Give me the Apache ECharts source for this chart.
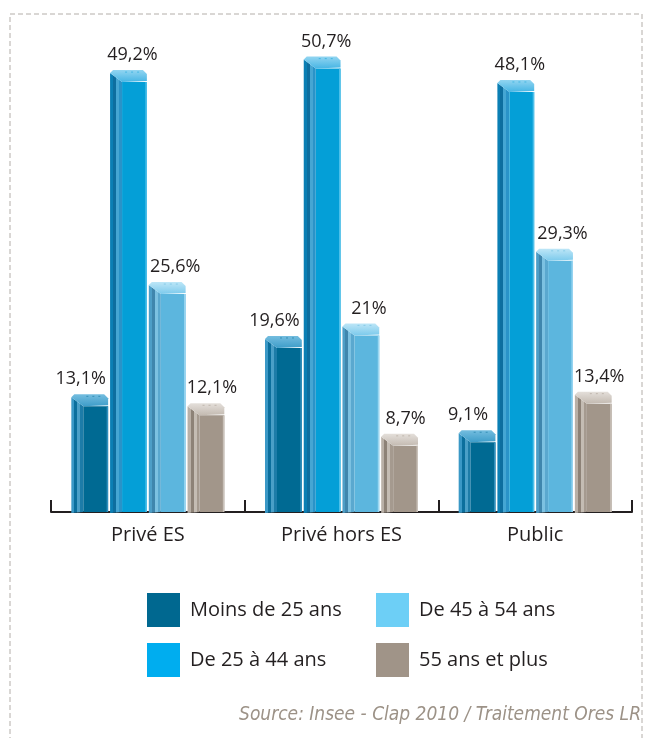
<!DOCTYPE html>
<html>
<head>
<meta charset="utf-8">
<script src="https://cdn.jsdelivr.net/npm/echarts@6/dist/echarts.min.js"></script>
<style>
  html, body { margin: 0; padding: 0; background: #ffffff; }
  #chart { width: 646px; height: 738px; }
</style>
</head>
<body>
<div id="chart"></div>
<script>
// Sectors and age-group shares (%)
const categories = ['Privé ES', 'Privé hors ES', 'Public'];
const seriesNames = ['Moins de 25 ans', 'De 25 à 44 ans', 'De 45 à 54 ans', '55 ans et plus'];
const moins25 = [13.1, 19.6, 9.1];
const de25a44 = [49.2, 50.7, 48.1];
const de45a54 = [25.6, 21, 29.3];
const plus55 = [12.1, 8.7, 13.4];
const sourceText = 'Source: Insee - Clap 2010 / Traitement Ores LR';

// Shading for the bevelled bars: legend swatch, front face, side stripes, cap
const palettes = [
  { swatch: '#006890', front: '#006a93', edge: '#2f8fbd',
    side: ['#3a98c6', '#0b6f9d', '#4a9fc7', '#1d7ca8'], cap: '#3e9dc9', capLight: '#74bddf', labelDx: -9 },
  { swatch: '#00adef', front: '#049fd7', edge: '#4fc0ea',
    side: ['#0b7fb4', '#0d6e9f', '#45a6d3', '#2a93c8'], cap: '#46b5e4', capLight: '#92d5f1', labelDx: 4 },
  { swatch: '#6dcff6', front: '#5cb6de', edge: '#9ad6f1',
    side: ['#4d9ec7', '#3f86ad', '#7cc1e1', '#5aa8cf'], cap: '#7ccaec', capLight: '#bde6f7', labelDx: 8 },
  { swatch: '#a09488', front: '#a2968a', edge: '#c9c1b9',
    side: ['#b9b0a7', '#8d8277', '#c4bcb3', '#a59a8f'], cap: '#c3bab1', capLight: '#e4dfda', labelDx: 6 }
];

// Legend slots: two columns, two rows
const legendSlots = [
  { left: 147, top: 593 },
  { left: 147, top: 643 },
  { left: 376, top: 593 },
  { left: 376, top: 643 }
];

const seriesValues = [moins25, de25a44, de45a54, plus55];

function fmt(v) {
  return String(v).replace('.', ',') + '%';
}

function stripeGradient(cols) {
  const stops = [];
  const n = cols.length;
  cols.forEach(function (c, i) {
    stops.push({ offset: i / n, color: c });
    stops.push({ offset: (i + 1) / n - 0.001, color: c });
  });
  return new echarts.graphic.LinearGradient(0, 0, 1, 0, stops);
}

function makeRenderer(si) {
  const pal = palettes[si];
  return function (params, api) {
    const idx = api.value(0);
    const val = api.value(1);
    const top = api.coord([idx, val]);
    const base = api.coord([idx, 0]);
    const band = api.size([1, 0])[0];
    const barW = band * 0.19;
    const pitch = band * 0.2;
    const cx = top[0] + (si - 1.5) * pitch;
    const x0 = cx - barW / 2;
    const xR = x0 + barW;
    const yT = top[1];
    const yB = base[1];
    const sideW = 12;
    const capH = 12;

    return {
      type: 'group',
      children: [
        { // side face with vertical stripes
          type: 'polygon',
          shape: { points: [[x0, yT + 3], [x0 + sideW, yT + capH], [x0 + sideW, yB], [x0, yB + 1]] },
          style: { fill: stripeGradient(pal.side) }
        },
        { // front face
          type: 'rect',
          shape: { x: x0 + sideW, y: yT + capH, width: xR - x0 - sideW, height: yB - yT - capH },
          style: { fill: pal.front }
        },
        { // highlight on the right edge
          type: 'rect',
          shape: { x: xR - 1.5, y: yT + capH, width: 1.5, height: yB - yT - capH },
          style: { fill: pal.edge }
        },
        { // bevelled top
          type: 'polygon',
          shape: { points: [[x0, yT + 3], [x0 + 3, yT], [xR - 4, yT], [xR, yT + 4], [xR, yT + capH - 1], [x0 + sideW, yT + capH]] },
          style: {
            fill: new echarts.graphic.LinearGradient(0, 0, 0, 1, [
              { offset: 0, color: pal.capLight },
              { offset: 1, color: pal.cap }
            ])
          }
        },
        { // small notches along the top edge
          type: 'polyline',
          shape: { points: [[x0 + sideW + 3, yT + 2], [xR - 6, yT + 2]] },
          style: { stroke: pal.front, lineWidth: 1, lineDash: [2, 4], opacity: 0.5, fill: null }
        },
        { // value label
          type: 'text',
          x: cx + pal.labelDx,
          y: yT - 6,
          style: {
            text: fmt(val),
            fill: '#231f20',
            font: '18px "Open Sans", sans-serif',
            align: 'center',
            verticalAlign: 'bottom'
          }
        }
      ]
    };
  };
}

const series = seriesValues.map(function (vals, si) {
  return {
    name: seriesNames[si],
    type: 'custom',
    renderItem: makeRenderer(si),
    itemStyle: { color: palettes[si].swatch },
    encode: { x: 0, y: 1 },
    data: vals.map(function (v, i) { return [i, v]; }),
    z: 2
  };
});

const legends = seriesNames.map(function (name, si) {
  return {
    data: [name],
    left: legendSlots[si].left,
    top: legendSlots[si].top,
    padding: 0,
    icon: 'rect',
    itemWidth: 33,
    itemHeight: 34,
    selectedMode: false,
    textStyle: {
      color: '#231f20',
      fontSize: 20,
      fontFamily: '"Open Sans", sans-serif',
      padding: [0, 0, 0, 5]
    }
  };
});

const chart = echarts.init(document.getElementById('chart'), null, { renderer: 'canvas' });

chart.setOption({
  animation: false,
  backgroundColor: '#ffffff',
  grid: { left: 51, right: 14, top: 18, bottom: 226, containLabel: false },
  xAxis: {
    type: 'category',
    data: categories,
    boundaryGap: true,
    axisLine: { show: true, lineStyle: { color: '#231f20', width: 2 } },
    axisTick: { show: true, inside: true, length: 12, lineStyle: { color: '#231f20', width: 2 } },
    axisLabel: { color: '#231f20', fontSize: 20, fontFamily: '"Open Sans", sans-serif', margin: 13 }
  },
  yAxis: {
    type: 'value',
    min: 0,
    max: 55,
    show: false,
    splitLine: { show: false }
  },
  legend: legends,
  graphic: [
    {
      type: 'rect',
      shape: { x: 10, y: 14, width: 632, height: 760 },
      style: { fill: null, stroke: '#b3aea9', lineWidth: 1, lineDash: [5, 3] },
      silent: true
    },
    {
      type: 'text',
      right: 5,
      top: 706,
      style: {
        text: sourceText,
        fill: '#9c9287',
        font: 'italic 19px "Liberation Sans Narrow", "DejaVu Sans Condensed", sans-serif'
      }
    }
  ],
  series: series
});
</script>
</body>
</html>
